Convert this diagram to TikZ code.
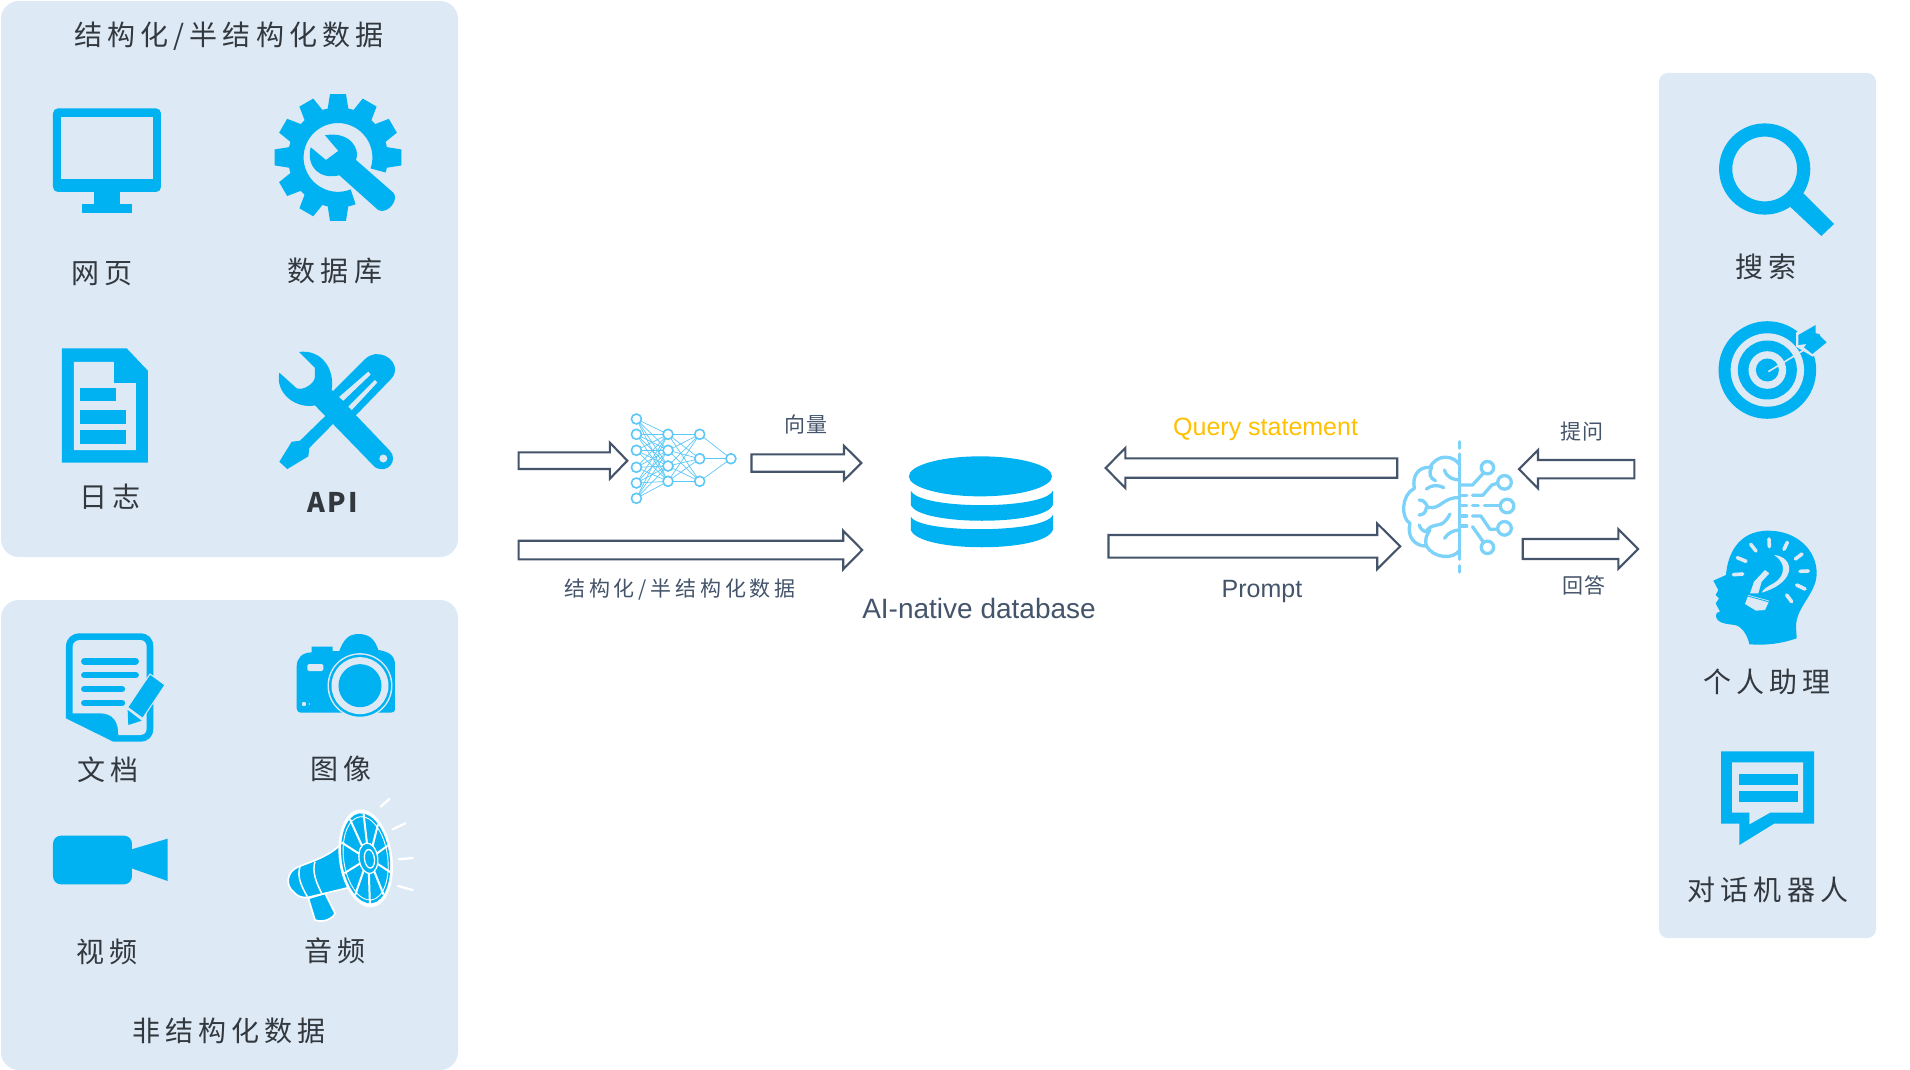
\documentclass[tikz,border=0pt]{standalone}
\usepackage{fontspec}
\setmainfont{Liberation Sans}
\newfontfamily\cjkw[LetterSpace=18]{Noto Sans CJK SC}
\newfontfamily\cjkn[LetterSpace=8]{Noto Sans CJK SC}
\definecolor{panelbg}{HTML}{DDE9F5}
\definecolor{iconblue}{HTML}{00B2F2}
\definecolor{netblue}{HTML}{5CC8F8}
\definecolor{brainblue}{HTML}{7CD2F8}
\definecolor{inktext}{HTML}{32383E}
\definecolor{slatetext}{HTML}{44546A}
\definecolor{querygold}{HTML}{FFC000}
\tikzset{
  panel/.style={fill=panelbg,rounded corners=#1},
  zm/.style n args={4}{shift={(#1,#2)},x=#3pt,y=-#4pt},
  ico/.style={fill=iconblue},
  gap/.style={fill=panelbg},
  biglabel/.style={font=\cjkw\fontsize{28}{28}\selectfont,text=inktext,inner sep=0pt},
  smalllabel/.style={font=\cjkn\fontsize{21}{21}\selectfont,text=slatetext,inner sep=0pt},
  latinlabel/.style={font=\fontsize{25}{25}\selectfont,text=slatetext,inner sep=0pt},
  blockar/.style={draw=slatetext,line width=2.1pt,fill=white,line join=miter},
  netnode/.style={circle,draw=netblue,line width=1.6pt,fill=white,minimum size=10pt,inner sep=0pt},
  netedge/.style={draw=netblue,line width=0.7pt},
  brainline/.style={draw=brainblue,line width=3.3pt,line cap=round,line join=round},
  soundline/.style={draw=white,line width=2.3pt,line cap=round},
}
% name, tail x, tip x, centre y, half shaft, half head, head base x
\newcommand{\blockarrow}[7]{%
  \coordinate (#1-tail) at (#2,#4);
  \coordinate (#1-tip) at (#3,#4);
  \draw[blockar] (#2,#4-#5) -- (#7,#4-#5) -- (#7,#4-#6) -- (#1-tip) -- (#7,#4+#6) -- (#7,#4+#5) -- (#2,#4+#5) -- cycle;
}
\begin{document}
\begin{tikzpicture}[x=1pt,y=-1pt]
\useasboundingbox (0,0) rectangle (1910,1070);
\fill[white] (0,0) rectangle (1910,1070);
% panels
\fill[panel=18pt] (1,1) rectangle (458,557);
\fill[panel=18pt] (1,600) rectangle (458,1070);
\fill[panel=9pt] (1659,73) rectangle (1876,938);

% ---- panel 1 icons
\begin{scope}[zm={0}{0}{0.33333}{0.3636}]
  % monitor
  \fill[ico,rounded corners=5pt] (159,298) rectangle (483,528);
  \fill[gap] (184,322) rectangle (458,492);
  \fill[ico] (283,520) rectangle (359,565);
  \fill[ico] (247,560) rectangle (395,585);
  % gear
  \foreach \a in {0,30,...,270}
    \fill[ico,shift={(1014,433)},rotate=\a] (135,-30) -- (190,-22) -- (190,22) -- (135,30) -- cycle;
  \draw[draw=iconblue,line width=15.6pt] (1014,433) ++(-18:42.2pt) arc[start angle=-18,end angle=291,radius=42.2pt];
  \fill[ico] (975,372) .. controls (1050,360) and (1082,410) .. (1068,440) -- (1180,530)
     .. controls (1198,548) and (1165,590) .. (1135,578) -- (1018,482)
     .. controls (960,495) and (918,460) .. (932,405) -- (978,440) -- (1015,415) -- cycle;
  % log document
  \fill[ico] (186,958) -- (380,958) -- (444,1020) -- (444,1272) -- (186,1272) -- cycle;
  \fill[gap] (222,995) -- (342,995) -- (342,1054) -- (408,1054) -- (408,1238) -- (222,1238) -- cycle;
  \fill[ico] (240,1066) rectangle (348,1104);
  \fill[ico] (240,1127) rectangle (378,1165);
  \fill[ico] (240,1182) rectangle (378,1220);
  % screwdriver
  \fill[ico] (1000,1075) -- (1095,988) .. controls (1130,955) and (1190,985) .. (1185,1020)
     .. controls (1183,1035) and (1175,1040) .. (1165,1050) -- (1070,1140) -- (1000,1165)
     -- (928,1232) -- (925,1255) -- (862,1290) -- (838,1270) -- (875,1215) -- (900,1212) -- (975,1145) -- cycle;
  \fill[gap] (1017,1092) -- (1105,1022) -- (1112,1030) -- (1030,1102) -- cycle;
  \fill[gap] (1045,1118) -- (1125,1045) -- (1132,1052) -- (1055,1128) -- cycle;
  % wrench
  \fill[ico] (897,968) .. controls (965,960) and (1005,1015) .. (995,1072) -- (1170,1240)
     .. controls (1195,1265) and (1165,1305) .. (1125,1285) -- (945,1115)
     .. controls (885,1125) and (825,1080) .. (838,1025) -- (890,1068)
     .. controls (910,1075) and (945,1055) .. (945,1035) -- (945,1012) -- cycle;
  \fill[gap] (1150,1261) circle[radius=4pt];
\end{scope}

% ---- panel 2 icons
\begin{scope}[zm={0}{590}{0.33333}{0.33333}]
  % notebook
  \fill[ico] (198,170) .. controls (198,145) and (215,130) .. (240,130) -- (420,130)
     .. controls (445,130) and (460,145) .. (460,170) -- (460,415)
     .. controls (460,440) and (445,455) .. (420,455) -- (340,455) -- (198,385) -- cycle;
  \fill[gap] (218,170) .. controls (218,158) and (228,150) .. (240,150) -- (420,150)
     .. controls (432,150) and (440,158) .. (440,170) -- (440,415)
     .. controls (440,428) and (432,435) .. (420,435) -- (355,435)
     .. controls (355,395) and (340,370) .. (300,370) -- (218,370) -- cycle;
  \foreach \yy/\xx in {214/407,255/407,297/366,339/366}
    \draw[draw=iconblue,line width=6.5pt,line cap=round] (253,\yy) -- (\xx,\yy);
  \fill[ico,draw=panelbg,line width=1pt] (450,252) -- (495,285) -- (428,385) -- (383,352) -- cycle;
  \fill[ico] (383,360) -- (425,392) -- (385,405) -- cycle;
  % camera
  \fill[ico] (890,230) .. controls (890,205) and (905,188) .. (935,187) -- (935,170) -- (998,170) -- (998,183) -- (1018,183)
     .. controls (1030,150) and (1045,132) .. (1075,132) .. controls (1110,132) and (1125,150) .. (1135,180)
     .. controls (1165,185) and (1185,195) .. (1185,225) -- (1185,355) .. controls (1185,365) and (1180,368) .. (1172,368)
     -- (905,368) .. controls (895,368) and (890,363) .. (890,355) -- cycle;
  \fill[panelbg] (1080,287) circle[radius=32.5pt];
  \fill[ico] (1080,287) circle[radius=31pt];
  \fill[panelbg] (1080,287) circle[radius=28.5pt];
  \fill[ico] (1080,287) circle[radius=21.5pt];
  \fill[gap,rounded corners=1.5pt] (922,222) rectangle (970,243);
  \fill[gap] (912,342) circle[radius=2.2pt];
  \fill[gap] (928,342) circle[radius=0.8pt];
  % video camera
  \fill[ico,rounded corners=8pt] (159,737) rectangle (396,883);
  \fill[ico] (395,778) -- (503,746) -- (503,873) -- (395,835) -- cycle;
  % megaphone
  \fill[ico,draw=white,line width=1.7pt,line join=round] (925,925) -- (945,990) .. controls (970,1000) and (1000,985) .. (1005,970) -- (975,910) -- cycle;
  \fill[ico,draw=white,line width=1.7pt,line join=round] (1020,765) .. controls (990,795) and (950,810) .. (895,830)
     .. controls (860,845) and (855,885) .. (880,905) .. controls (890,918) and (905,925) .. (925,922)
     -- (1050,892) -- cycle;
  \draw[draw=white,line width=1.5pt] (900,830) .. controls (890,860) and (905,890) .. (922,920);
  \draw[draw=white,line width=1.5pt] (945,815) .. controls (935,845) and (950,880) .. (965,910);
  \begin{scope}[rotate around={8:(1097,805)}]
    \fill[white] (1097,805) ellipse[x radius=80,y radius=148];
    \fill[ico] (1097,805) ellipse[x radius=72,y radius=136];
    \draw[draw=white,line width=0.9pt] (1097,805) ellipse[x radius=66,y radius=126];
    \foreach \a in {-155,-115,-80,-45,-12,22,58,95,130,165}
      \draw[draw=white,line width=2pt] ({1103+22*cos(\a)},{807+36*sin(\a)}) -- ({1097+72*cos(\a)},{805+136*sin(\a)});
    \fill[ico,draw=white,line width=1.3pt] (1105,806) ellipse[x radius=28,y radius=46];
    \fill[ico,draw=white,line width=1.3pt] (1108,808) ellipse[x radius=15,y radius=28];
  \end{scope}
  \draw[soundline] (1142,650) -- (1168,627);
  \draw[soundline] (1178,718) -- (1216,700);
  \draw[soundline] (1197,808) -- (1238,804);
  \draw[soundline] (1194,888) -- (1238,900);
\end{scope}

% ---- right panel icons
\begin{scope}[zm={1650}{60}{0.33333}{0.33333}]
  % magnifier
  \draw[draw=iconblue,line width=13.2pt] (344,327) circle[radius=39pt];
  \fill[ico] (460,400) -- (552,492) -- (514,528) -- (420,440) -- cycle;
  % target
  \fill[ico] (352,930) circle[radius=48.8pt];
  \fill[gap] (352,930) circle[radius=36.7pt];
  \fill[ico] (352,930) circle[radius=29.5pt];
  \fill[gap] (352,930) circle[radius=18.8pt];
  \fill[ico] (352,930) circle[radius=11.5pt];
  \fill[gap] (438,818) -- (502,785) -- (540,848) -- (488,890) -- (438,860) -- cycle;
  \draw[draw=panelbg,line width=1.6pt] (355,935) -- (470,865);
  \fill[ico] (445,825) -- (497,795) -- (497,820) -- (508,822) -- (512,830) -- (530,847) -- (487,882) -- (462,862) -- (470,852) -- (445,855) -- cycle;
\end{scope}
\begin{scope}[zm={1650}{510}{0.33333}{0.33333}]
  % head with bulb
  \fill[ico] (298,403) .. controls (295,385) and (280,350) .. (255,345) .. controls (230,342) and (200,340) .. (198,318)
    .. controls (198,308) and (205,305) .. (210,305) -- (197,280) -- (207,265) -- (197,255) -- (205,240) -- (190,212) -- (228,195)
    .. controls (232,140) and (260,62) .. (355,62) .. controls (440,62) and (500,120) .. (500,190)
    .. controls (500,250) and (438,290) .. (438,350) -- (440,385) .. controls (380,405) and (340,405) .. (298,403) -- cycle;
  \foreach \xa/\ya/\xb/\yb in {357/87/358/110,412/97/402/118,456/132/436/147,475/183/450/184,465/237/440/225,425/275/410/255,302/103/318/123,262/143/288/154,250/194/278/192}
    \draw[draw=panelbg,line width=3.6pt,line cap=round] (\xa,\ya) -- (\xb,\yb);
  \fill[gap] (372,135) .. controls (432,140) and (445,215) .. (335,248) .. controls (345,225) and (380,225) .. (395,195) .. controls (405,170) and (395,150) .. (372,135) -- cycle;
  \fill[gap] (300,250) -- (312,215) -- (345,180) -- (358,190) -- (335,215) -- (325,250) -- cycle;
  \fill[gap] (295,255) -- (358,272) -- (345,300) -- (318,302) -- (285,282) -- cycle;
  \draw[draw=iconblue,line width=0.8pt] (293,258) -- (358,276);
  % chat bubble
  \fill[ico] (213,724) -- (492,724) -- (492,941) -- (372,941) -- (268,1005) -- (268,941) -- (213,941) -- cycle;
  \fill[gap] (246,757) -- (459,757) -- (459,908) -- (360,908) -- (298,943) -- (298,908) -- (246,908) -- cycle;
  \fill[ico] (267,793) rectangle (444,826);
  \fill[ico] (267,842) rectangle (444,875);
\end{scope}

% ---- panel labels
\node[biglabel] (title1) at (229,36) {结构化/半结构化数据};
\node[biglabel] (web) at (102,274) {网页};
\node[biglabel] (dbl) at (335,271) {数据库};
\node[biglabel] (logl) at (110,497) {日志};
\node[biglabel,font=\cjkn\bfseries\fontsize{27}{27}\selectfont] (api) at (333,502) {API};
\node[biglabel] (docl) at (108,770) {文档};
\node[biglabel] (imgl) at (341,769) {图像};
\node[biglabel] (vidl) at (107,952) {视频};
\node[biglabel] (audl) at (335,951) {音频};
\node[biglabel] (title2) at (229,1031) {非结构化数据};
\node[biglabel] (searchl) at (1766,267) {搜索};
\node[biglabel] (assistl) at (1767,682) {个人助理};
\node[biglabel] (botl) at (1768,890) {对话机器人};

% ---- neural network
\foreach \n/\xx/\yy in {a1/636.4/419,a2/636.4/434.3,a3/636.4/450.3,a4/636.4/467.3,a5/636.4/483,a6/636.4/498.3,
  b1/668/434.3,b2/668/450.3,b3/668/466,b4/668/481.3,
  c1/699.7/434.3,c2/699.7/458.7,c3/699.7/481.3,d1/730.9/458.7}
  \coordinate (\n) at (\xx,\yy);
\foreach \u in {a1,a2,a3,a4,a5,a6} \foreach \v in {b1,b2,b3,b4} \draw[netedge] (\u) -- (\v);
\foreach \u in {b1,b2,b3,b4} \foreach \v in {c1,c2,c3} \draw[netedge] (\u) -- (\v);
\foreach \u in {c1,c2,c3} \draw[netedge] (\u) -- (d1);
\foreach \u in {a1,a2,a3,a4,a5,a6,b1,b2,b3,b4,c1,c2,c3,d1} \node[netnode] (node-\u) at (\u) {};

% ---- database
\begin{scope}[zm={500}{390}{0.3954}{0.33333}]
  \fill[ico] (1215,259) ellipse[x radius=181,y radius=60];
  \fill[ico] (1039,302) .. controls (1060,360) and (1378,360) .. (1398,302) -- (1398,345) .. controls (1378,408) and (1060,408) .. (1039,345) -- cycle;
  \fill[ico] (1039,380) .. controls (1060,431) and (1378,431) .. (1398,375) -- (1398,420) .. controls (1378,489) and (1060,489) .. (1039,420) -- cycle;
\end{scope}

% ---- brain
\begin{scope}[zm={1090}{390}{0.3636}{0.33333}]
  \draw[brainline] (1017,155) -- (1017,175);
  \draw[brainline] (1017,192) -- (1017,508);
  \draw[brainline] (1017,527) -- (1017,546);
  \draw[brainline] (1017,225) .. controls (1000,195) and (955,190) .. (935,232) .. controls (905,230) and (885,255) .. (892,295)
     .. controls (855,315) and (855,385) .. (880,400) .. controls (870,440) and (895,470) .. (925,468)
     .. controls (945,505) and (1000,510) .. (1017,480);
  \draw[brainline] (975,240) .. controls (980,262) and (1000,270) .. (1017,270);
  \draw[brainline] (940,232) .. controls (930,250) and (935,265) .. (950,272);
  \draw[brainline] (925,297) .. controls (940,283) and (960,285) .. (973,293);
  \draw[brainline] (905,330) .. controls (925,330) and (925,350) .. (930,352) .. controls (965,360) and (970,320) .. (1017,323);
  \draw[brainline] (925,352) .. controls (925,368) and (915,375) .. (905,375);
  \draw[brainline] (905,405) .. controls (910,420) and (920,425) .. (925,425) .. controls (935,400) and (965,410) .. (975,395) .. controls (985,385) and (988,375) .. (990,372);
  \draw[brainline] (925,468) .. controls (920,450) and (925,435) .. (935,420);
  \draw[brainline] (975,445) .. controls (985,428) and (1000,420) .. (1017,420);
  \foreach \xx/\yy/\rr in {1093/233/6.2,1140/277/6.8,1147/348/6.8,1140/415/6.8,1093/472/6.2}
    \draw[brainline] (\xx,\yy) circle[radius=\rr pt];
  \draw[brainline] (1017,285) -- (1052,285) -- (1083,248);
  \draw[brainline] (1022,316) -- (1036,316);
  \draw[brainline] (1052,316) -- (1080,316) -- (1105,285) -- (1120,280);
  \draw[brainline] (1022,347) -- (1036,347);
  \draw[brainline] (1052,347) -- (1068,347);
  \draw[brainline] (1085,347) -- (1127,347);
  \draw[brainline] (1022,378) -- (1036,378);
  \draw[brainline] (1052,378) -- (1075,378) -- (1100,418) -- (1120,418);
  \draw[brainline] (1022,408) -- (1036,408);
  \draw[brainline] (1052,410) -- (1083,458);
\end{scope}

% ---- block arrows
\blockarrow{rawin}{518.6}{627.3}{460.7}{8.3}{18}{609.9}
\blockarrow{vecout}{751.5}{861.4}{463}{8.7}{17.2}{844}
\blockarrow{structin}{518.6}{862.2}{550}{9.3}{19.3}{843.2}
\blockarrow{query}{1397.2}{1105.6}{468}{9.7}{20}{1125.3}
\blockarrow{prompt}{1108.5}{1400.2}{546.3}{11.3}{22.8}{1377.2}
\blockarrow{ask}{1634.3}{1519}{469.2}{9.2}{19.2}{1538}
\blockarrow{answer}{1522.7}{1638}{549}{10}{19.8}{1618.3}

% ---- centre labels
\node[smalllabel] (vecl) at (806,424) {向量};
\node[smalllabel,font=\cjkw\fontsize{21}{21}\selectfont] (structl) at (680,590) {结构化/半结构化数据};
\node[latinlabel,font=\fontsize{28}{28}\selectfont] (aidb) at (979,608) {AI-native database};
\node[latinlabel,text=querygold] (queryl) at (1265.6,429) {Query statement};
\node[latinlabel] (promptl) at (1262,591) {Prompt};
\node[smalllabel] (askl) at (1582,432) {提问};
\node[smalllabel] (ansl) at (1584,585) {回答};
\end{tikzpicture}
\end{document}
